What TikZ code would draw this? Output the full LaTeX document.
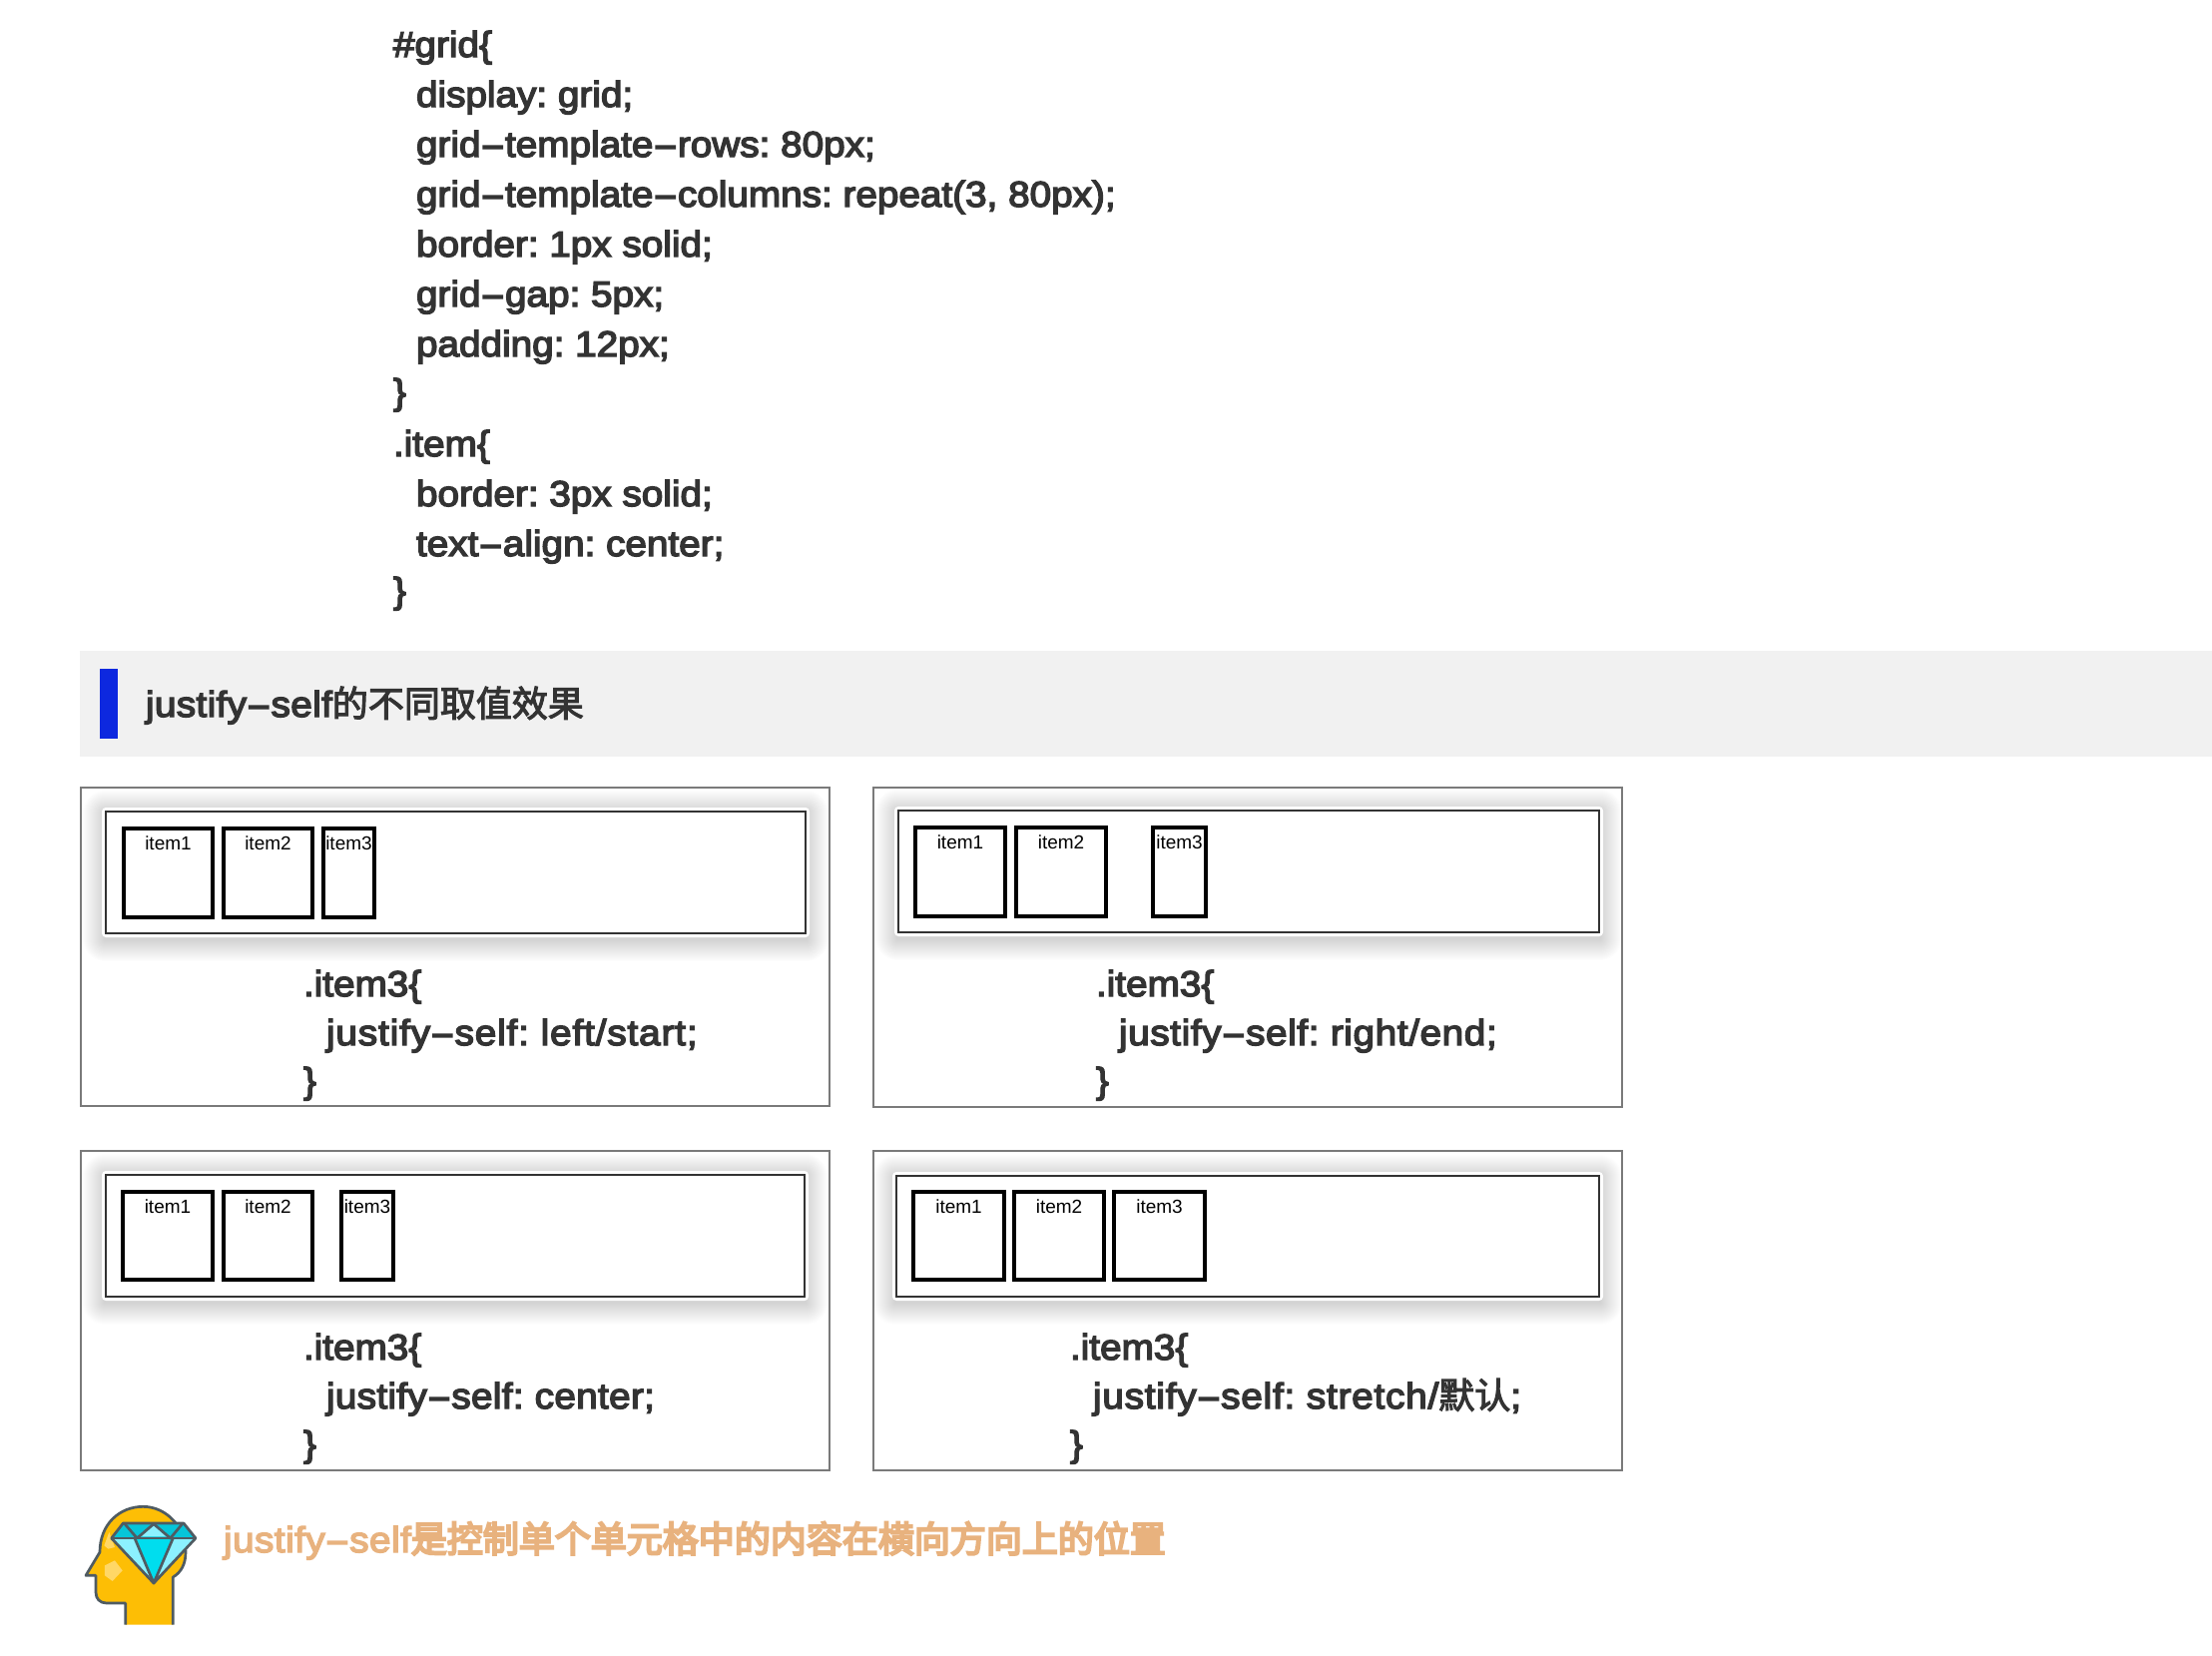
\documentclass[tikz,border=0pt]{standalone}
\usepackage{fontspec}
\setmainfont{Liberation Sans}
\newfontfamily\codefont[FakeBold=4,FakeStretch=1.075]{Liberation Sans}
\newfontfamily\cjk[FakeBold=3]{Noto Sans CJK SC}
\newfontfamily\cjkb[FakeBold=6]{Noto Sans CJK SC}
\newcommand{\hy}{\scalebox{1.9}[1]{-}}
\newcommand{\lsp}[1]{\addfontfeature{LetterSpace=#1}}
\definecolor{ink}{HTML}{333333}
\definecolor{tip}{HTML}{E8B27E}
\definecolor{band}{HTML}{F1F1F1}
\definecolor{barblue}{HTML}{0D28DF}
\definecolor{panelgray}{HTML}{7A7A7A}
\definecolor{headfill}{HTML}{FDBE05}
\definecolor{headline}{HTML}{4F5B62}
\definecolor{pale}{HTML}{FFD766}
\definecolor{gemdark}{HTML}{06C5D9}
\definecolor{gemmid}{HTML}{00DDEE}
\definecolor{gemlight}{HTML}{8CF1FF}
\tikzset{
  codeline/.style={anchor=base west,inner sep=0pt,outer sep=0pt,text=ink,font=\fontsize{36}{36}\selectfont\codefont\frenchspacing},
  tipline/.style={codeline,text=tip},
  panel/.style={draw=panelgray,line width=2pt,fill=white,outer sep=0pt},
  innerbox/.style={draw=black!80,line width=1.5pt,fill=white,outer sep=0pt},
  itembox/.style={draw=black,line width=4pt,fill=white,outer sep=0pt},
  itemlabel/.style={anchor=base,inner sep=0pt,outer sep=0pt,text=black,font=\fontsize{19}{19}\selectfont},
  gemline/.style={draw=headline,line width=2.7pt,line join=round,line cap=butt},
}
% \panelbox{name}{outer x0}{outer y0}{outer x1}{outer y1}{inner x0}{inner y0}{inner x1}{inner y1}
\newcommand{\panelbox}[9]{%
  \node[panel,anchor=north west,inner sep=0pt,minimum width=#4-#2,minimum height=#5-#3] (#1) at (#2,#3) {};
  \foreach \k in {1,...,22}{
    \fill[black,opacity=0.0095,rounded corners=\k pt]
      ($(#6,#7)+(-\k-1,-\k+1)$) rectangle ($(#8,#9)+(\k+1,\k+6)$);
  }
  \fill[white,rounded corners=4pt] ($(#6,#7)+(-4,-4)$) rectangle ($(#8,#9)+(4,4)$);
  \node[innerbox,anchor=north west,inner sep=0pt,minimum width=#8-#6,minimum height=#9-#7] (#1in) at (#6,#7) {};
}
% \itembx{name}{x0}{y0}{x1}{y1}{label}
\newcommand{\itembx}[6]{%
  \node[itembox,anchor=north west,inner sep=0pt,minimum width=#4-#2-4,minimum height=#5-#3-4] (#1) at ({#2+2},{#3+2}) {};
  \node[itemlabel] (#1t) at ({(#2+#4)/2},{#3+23}) {#6};
}
\usetikzlibrary{calc}
\begin{document}
\begin{tikzpicture}[x=1pt,y=-1pt]
\useasboundingbox (0,0) rectangle (2216,1658);
\fill[white] (0,0) rectangle (2216,1658);

% code block
\node[codeline] (c1) at (394,57) {\#grid\{};
\node[codeline] (c2) at (417,107) {display: grid;};
\node[codeline] (c3) at (417,157) {grid\hy template\hy rows: 80px;};
\node[codeline] (c4) at (417,207) {grid\hy template\hy columns: repeat(3, 80px);};
\node[codeline] (c5) at (417,257) {border: 1px solid;};
\node[codeline] (c6) at (417,307) {grid\hy gap: 5px;};
\node[codeline] (c7) at (417,357) {padding: 12px;};
\node[codeline] (c8) at (394,405) {\}};
\node[codeline] (c9) at (394,457) {.item\{};
\node[codeline] (c10) at (417,507) {border: 3px solid;};
\node[codeline] (c11) at (417,557) {text\hy align: center;};
\node[codeline] (c12) at (394,604) {\}};

% heading band
\fill[band] (80,652) rectangle (2216,758);
\fill[barblue] (100,670) rectangle (118,740);
\node[codeline] (h) at (146,718) {{\lsp{1}justify\hy self}{\cjk 的不同取值效果}};

% panels
\panelbox{p1}{81}{789}{831}{1108}{106}{813}{807}{935}
\itembx{p1a}{122}{828}{215}{921}{item1}
\itembx{p1b}{222}{828}{315}{921}{item2}
\itembx{p1c}{322}{828}{377}{921}{item3}
\node[codeline] (p1x) at (304,998) {.item3\{};
\node[codeline] (p1y) at (327,1047) {\lsp{2.4}justify\hy self: left/start;};
\node[codeline] (p1z) at (304,1095) {\}};

\panelbox{p2}{875}{789}{1625}{1109}{900}{812}{1602}{934}
\itembx{p2a}{915}{827}{1009}{920}{item1}
\itembx{p2b}{1016}{827}{1110}{920}{item2}
\itembx{p2c}{1153}{827}{1210}{920}{item3}
\node[codeline] (p2x) at (1098,998) {.item3\{};
\node[codeline] (p2y) at (1121,1047) {\lsp{1.7}justify\hy self: right/end;};
\node[codeline] (p2z) at (1098,1095) {\}};

\panelbox{p3}{81}{1153}{831}{1473}{106}{1177}{806}{1299}
\itembx{p3a}{121}{1192}{215}{1284}{item1}
\itembx{p3b}{222}{1192}{315}{1284}{item2}
\itembx{p3c}{340}{1192}{396}{1284}{item3}
\node[codeline] (p3x) at (304,1362) {.item3\{};
\node[codeline] (p3y) at (327,1411) {\lsp{0.9}justify\hy self: center;};
\node[codeline] (p3z) at (304,1459) {\}};

\panelbox{p4}{875}{1153}{1625}{1473}{898}{1178}{1602}{1299}
\itembx{p4a}{913}{1192}{1008}{1284}{item1}
\itembx{p4b}{1014}{1192}{1108}{1284}{item2}
\itembx{p4c}{1114}{1192}{1209}{1284}{item3}
\node[codeline] (p4x) at (1072,1362) {.item3\{};
\node[codeline] (p4y) at (1095,1411) {{\lsp{2.2}justify\hy self: stretch/}{\cjk 默认};};
\node[codeline] (p4z) at (1072,1459) {\}};

% tip text
\node[tipline] (t) at (224,1555) {{\lsp{1.3}justify\hy self}{\cjkb 是控制单个单元格中的内容在横向方向上的位置}};

% icon, in zoom coordinates
\begin{scope}[shift={(60,1480)},x=0.3333pt,y=-0.3333pt]
  \draw[fill=headfill,gemline] (197,443) -- (197,378) -- (140,378)
    .. controls (120,378) and (108,365) .. (108,345) -- (108,295) -- (78,295) -- (120,225)
    .. controls (120,140) and (180,88) .. (250,88)
    .. controls (320,88) and (378,150) .. (378,225)
    .. controls (378,260) and (365,285) .. (340,300) -- (340,443);
  \fill[pale] (135,265) -- (165,250) -- (188,280) -- (158,312) -- (135,295) -- cycle;
  \fill[pale] (133,205) -- (148,165) -- (165,210) -- (145,215) -- cycle;
  \fill[gemdark] (190,138) -- (372,138) -- (408,183) -- (155,183) -- cycle;
  \fill[gemlight] (155,183) -- (408,183) -- (282,318) -- cycle;
  \fill[gemmid] (225,183) -- (340,183) -- (282,318) -- cycle;
  \fill[gemlight] (282,145) -- (325,178) -- (240,178) -- cycle;
  \draw[gemline] (190,138) -- (372,138) -- (408,183) -- (282,318) -- (155,183) -- cycle;
  \draw[gemline] (155,183) -- (408,183);
  \draw[gemline] (225,183) -- (282,318) -- (340,183);
  \draw[gemline] (195,140) -- (232,183) -- (282,140) -- (332,183) -- (368,140);
\end{scope}
\end{tikzpicture}
\end{document}
